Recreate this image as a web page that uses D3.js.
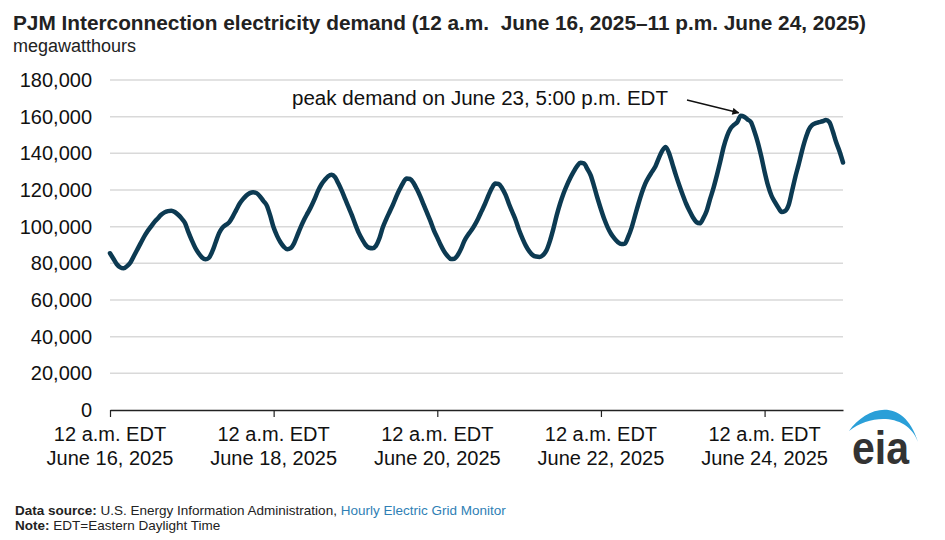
<!DOCTYPE html>
<html lang="en">
<head>
<meta charset="UTF-8">
<title>PJM Interconnection electricity demand</title>
<script src="https://cdn.jsdelivr.net/npm/d3@7"></script>
<style>
  body { margin: 0; background: #fff; }
  svg { display: block; font-family: "Liberation Sans", Arial, sans-serif; }
  .grid line { stroke: #d9d9d9; stroke-width: 1.5; }
  .tick-label { font-size: 20px; fill: #111; }
  .footer { font-size: 13.5px; fill: #222; }
</style>
</head>
<body>
<script>
// hourly demand (MWh), one array per day (12 a.m. - 11 p.m. EDT)
var june16 = [85500, 82500, 79500, 77800, 77300, 78500, 80500, 84000, 87500, 91000, 94500, 97500,
              100000, 102500, 104500, 106500, 107800, 108500, 108700, 108000, 106500, 104500, 102000, 97000];
var june17 = [92500, 88500, 85500, 83200, 82200, 83000, 86500, 91500, 96500, 99500, 101000, 102500,
              105500, 109000, 112500, 115000, 117000, 118300, 118800, 118300, 116500, 114000, 111500, 106000];
var june18 = [99500, 95000, 91500, 89000, 87700, 88300, 91000, 95500, 100000, 104000, 107500, 111000,
              115000, 119500, 123000, 125500, 127500, 128300, 127000, 123500, 119500, 115000, 110500, 106000];
var june19 = [101000, 96500, 93000, 90000, 88500, 88200, 89500, 93500, 99500, 104000, 108000, 112000,
              116500, 120500, 124000, 126300, 126000, 124000, 120500, 116500, 112000, 107500, 103000, 98000];
var june20 = [94000, 90000, 86500, 84000, 82300, 82500, 84500, 88000, 92500, 95500, 98000, 101000,
              104500, 108500, 112500, 117000, 121000, 123500, 123300, 121000, 117500, 112500, 108000, 103500];
var june21 = [98000, 93500, 89500, 86500, 84500, 83700, 83500, 84500, 87000, 92000, 98500, 106000,
              112500, 118000, 122500, 126500, 130000, 133000, 134800, 134500, 131500, 128000, 122000, 115500];
var june22 = [109500, 104000, 99500, 96000, 93500, 91500, 90500, 90800, 94500, 99500, 106000, 112500,
              118500, 123500, 127000, 130000, 133000, 137500, 141500, 143500, 140000, 134000, 128000, 122500];
var june23 = [117300, 112500, 108500, 105000, 102500, 101800, 104500, 108500, 115000, 121000, 128000, 135500,
              143500, 149500, 153500, 155500, 157000, 160500, 160000, 158500, 157000, 152000, 146000, 138500];
var june24 = [130000, 122500, 117000, 113500, 110500, 108000, 108500, 111500, 119000, 127000, 134000, 141500,
              148000, 153000, 155500, 156500, 157000, 157500, 158200, 157000, 152000, 146000, 141000, 135000];

var yTicks = [0, 20000, 40000, 60000, 80000, 100000, 120000, 140000, 160000, 180000];
var xTickDays = [16, 18, 20, 22, 24];
var xTickTop = "12 a.m. EDT";
var xTickBottom = ["June 16, 2025", "June 18, 2025", "June 20, 2025", "June 22, 2025", "June 24, 2025"];

var peakLabel = "peak demand on June 23, 5:00 p.m. EDT";
var peakHour = 17; // 5 p.m., June 23

var demand = [].concat(june16, june17, june18, june19, june20, june21, june22, june23, june24);
var start = new Date(Date.UTC(2025, 5, 16, 0));
var data = demand.map(function(v, i){ return { t: d3.utcHour.offset(start, i), v: v }; });

var width = 945, height = 540;
var svg = d3.select("body").append("svg").attr("width", width).attr("height", height);

var x = d3.scaleUtc().domain([start, data[data.length - 1].t]).range([110, 843]);
var y = d3.scaleLinear().domain([0, 180000]).range([410, 80]);

// title
svg.append("text").attr("x", 13).attr("y", 30)
   .attr("font-size", 20).attr("font-weight", "bold").attr("fill", "#222")
   .attr("textLength", 853).attr("lengthAdjust", "spacingAndGlyphs")
   .text("PJM Interconnection electricity demand (12 a.m.\u00a0 June 16, 2025\u201311 p.m. June 24, 2025)");
svg.append("text").attr("x", 13).attr("y", 52)
   .attr("font-size", 18).attr("fill", "#222")
   .text("megawatthours");

// gridlines
svg.append("g").attr("class", "grid")
   .selectAll("line")
   .data(yTicks.filter(function(d){ return d > 0; }))
   .enter().append("line")
     .attr("x1", 110).attr("x2", 843)
     .attr("y1", function(d){ return y(d); })
     .attr("y2", function(d){ return y(d); });

// y axis labels
var yAxis = svg.append("g").attr("transform", "translate(92,0)")
   .call(d3.axisLeft(y).tickValues(yTicks).tickSize(0).tickPadding(0).tickFormat(d3.format(",")));
yAxis.select(".domain").remove();
yAxis.selectAll("text").attr("class", "tick-label").attr("font-family", null).attr("font-size", null);

// x axis
var tickDates = xTickDays.map(function(d){ return new Date(Date.UTC(2025, 5, d, 0)); });
var xAxis = svg.append("g").attr("transform", "translate(0,410)")
   .call(d3.axisBottom(x).tickValues(tickDates).tickSize(7).tickSizeOuter(0).tickFormat(""));
xAxis.select(".domain").attr("stroke", "#222").attr("stroke-width", 1.5);
xAxis.selectAll(".tick line").attr("stroke", "#222").attr("stroke-width", 1.2);

var xl = svg.append("g").selectAll("text")
   .data(tickDates)
   .enter().append("text")
     .attr("class", "tick-label")
     .attr("text-anchor", "middle");
xl.append("tspan").attr("x", function(d){ return x(d); }).attr("y", 441).text(xTickTop);
xl.append("tspan").attr("x", function(d){ return x(d); }).attr("y", 465)
  .text(function(d, i){ return xTickBottom[i]; });

// demand line
var line = d3.line()
   .x(function(d){ return x(d.t); })
   .y(function(d){ return y(d.v); })
   .curve(d3.curveMonotoneX);
svg.append("path").datum(data)
   .attr("d", line)
   .attr("fill", "none")
   .attr("stroke", "#0c3a52")
   .attr("stroke-width", 4.5)
   .attr("stroke-linejoin", "round")
   .attr("stroke-linecap", "round");

// peak annotation
var peak = data[7 * 24 + peakHour];
svg.append("defs").append("marker")
   .attr("id", "arrow").attr("viewBox", "0 0 10 10")
   .attr("refX", 9).attr("refY", 5)
   .attr("markerWidth", 9).attr("markerHeight", 7)
   .attr("markerUnits", "userSpaceOnUse")
   .attr("orient", "auto")
   .append("path").attr("d", "M0,0L10,5L0,10Z").attr("fill", "#111");
svg.append("line")
   .attr("x1", 687).attr("y1", 100)
   .attr("x2", x(peak.t) - 2).attr("y2", y(peak.v) - 3)
   .attr("stroke", "#111").attr("stroke-width", 1.3)
   .attr("marker-end", "url(#arrow)");
svg.append("text").attr("x", 292).attr("y", 105)
   .attr("class", "tick-label")
   .attr("textLength", 376).attr("lengthAdjust", "spacingAndGlyphs")
   .text(peakLabel);

// eia logo
var logo = svg.append("g");
logo.append("path")
   .attr("d", "M849,431 C866,407 903,395 918,442 C908,414 872,413 849,431 Z")
   .attr("fill", "#2a9fd8");
logo.append("text").attr("x", 852).attr("y", 464)
   .attr("font-size", 46).attr("font-weight", "bold").attr("fill", "#333")
   .attr("textLength", 57).attr("lengthAdjust", "spacingAndGlyphs")
   .text("eia");

// footer
var f1 = svg.append("text").attr("class", "footer").attr("x", 15).attr("y", 515);
f1.append("tspan").attr("font-weight", "bold").text("Data source: ");
f1.append("tspan").text("U.S. Energy Information Administration, ");
f1.append("tspan").attr("fill", "#2f7fb5").text("Hourly Electric Grid Monitor");
var f2 = svg.append("text").attr("class", "footer").attr("x", 15).attr("y", 530);
f2.append("tspan").attr("font-weight", "bold").text("Note: ");
f2.append("tspan").text("EDT=Eastern Daylight Time");
</script>
</body>
</html>
